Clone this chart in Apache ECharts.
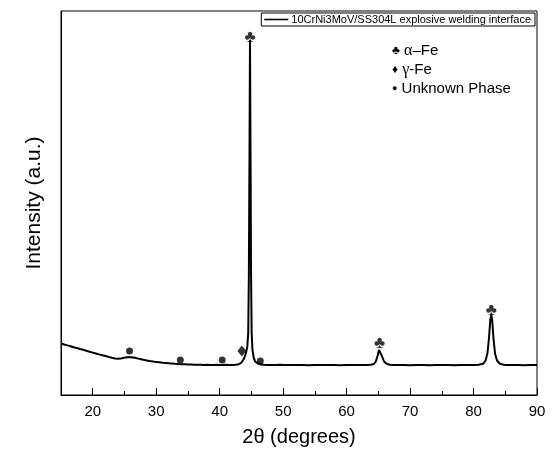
<!DOCTYPE html>
<html>
<head>
<meta charset="utf-8">
<script src="https://cdn.jsdelivr.net/npm/echarts@6/dist/echarts.min.js"></script>
<style>
  html, body { margin: 0; padding: 0; background: #fff; }
  #chart { width: 553px; height: 455px; }
</style>
</head>
<body>
<div id="chart"></div>
<script>
// XRD pattern of the explosive-welding interface
const seriesName = '10CrNi3MoV/SS304L explosive welding interface';

const twoTheta = [
  15.0, 15.5, 16.0, 16.5, 17.0, 17.5, 18.0, 18.5, 19.0, 19.5,
  20.0, 20.5, 21.0, 21.5, 22.0, 22.5, 23.0, 23.5, 24.0, 24.4,
  24.8, 25.2, 25.6, 26.0, 26.4, 26.8, 27.2, 27.6, 28.0, 28.5,
  29.0, 29.5, 30.0, 30.5, 31.0, 31.5, 32.0, 32.5, 33.0, 33.5,
  34.0, 34.5, 35.0, 35.5, 36.0, 36.5, 37.0, 37.5, 38.0, 38.5,
  39.0, 39.5, 40.0, 40.5, 41.0, 41.5, 42.0, 42.5, 43.0, 43.4,
  43.8, 44.1, 44.35, 44.5, 44.6, 44.7, 44.78, 44.86, 44.94, 45.04,
  45.17, 45.37, 45.6, 46.0, 46.5, 47.0, 47.5, 48.0, 48.5, 49.0,
  49.5, 50.0, 51.0, 52.0, 53.0, 54.0, 55.0, 56.0, 57.0, 58.0,
  59.0, 60.0, 61.0, 62.0, 63.0, 63.8, 64.3, 64.6, 64.9, 65.1,
  65.25, 65.4, 65.6, 65.9, 66.3, 66.8, 67.5, 68.0, 69.0, 70.0,
  71.0, 72.0, 73.0, 74.0, 75.0, 76.0, 77.0, 78.0, 79.0, 80.0,
  80.8, 81.5, 81.9, 82.2, 82.45, 82.65, 82.8, 82.95, 83.15, 83.4,
  83.7, 84.1, 84.6, 85.0, 86.0, 87.0, 88.0, 89.0, 90.0
];

const intensity = [
  515, 505, 496, 487, 478, 470, 460, 452, 442, 433,
  424, 415, 406, 398, 390, 381, 372, 366, 362, 364,
  370, 376, 379, 378, 375, 370, 364, 358, 352, 346,
  340, 335, 331, 327, 323, 320, 317, 315, 312, 310,
  308, 307, 305, 304, 303, 302, 303, 301, 302, 300,
  301, 302, 300, 301, 302, 300, 301, 303, 308, 322,
  360, 410, 480, 620, 1200, 2400, 3550, 2450, 1250, 620,
  450, 370, 335, 315, 305, 302, 300, 301, 299, 300,
  302, 300, 299, 301, 300, 298, 300, 301, 299, 300,
  298, 300, 299, 301, 300, 302, 310, 335, 395, 450,
  470, 440, 385, 335, 312, 303, 300, 299, 301, 298,
  300, 299, 298, 300, 299, 301, 298, 300, 299, 300,
  302, 312, 345, 420, 580, 760, 800, 740, 560, 410,
  345, 315, 304, 301, 300, 299, 298, 300, 299
];

// phase markers placed above the reflections
const alphaFePeaks = [[44.8, 3580], [65.2, 520], [82.8, 850]];
const gammaFePeaks = [[43.5, 440]];
const unknownPeaks = [[25.8, 440], [33.8, 350], [40.4, 350], [46.4, 340]];

const xMin = 15, xMax = 90;
const xMajorTicks = [20, 30, 40, 50, 60, 70, 80, 90];
const xMinorTicks = [25, 35, 45, 55, 65, 75, 85];
const yMin = 0, yMax = 3840;

const lineData = twoTheta.map((t, i) => [t, intensity[i]]);

const chart = echarts.init(document.getElementById('chart'), null, { renderer: 'canvas' });

const font = 'Liberation Sans, Arial, sans-serif';
const serif = 'Liberation Serif, Times New Roman, serif';

chart.setOption({
  animation: false,
  backgroundColor: '#fff',
  grid: {
    left: 61, right: 16, top: 11, bottom: 60,
    show: true, borderColor: '#000', borderWidth: 1, backgroundColor: 'transparent'
  },
  legend: {
    data: [{ name: seriesName, icon: 'rect' }],
    right: 18, top: 13,
    orient: 'horizontal',
    borderColor: '#000', borderWidth: 1,
    padding: [1, 4, 1, 3],
    itemWidth: 24, itemHeight: 1.6,
    itemGap: 4,
    itemStyle: { color: '#000' },
    textStyle: { fontFamily: font, fontSize: 11, color: '#000', padding: [0, 0, 0, -2] }
  },
  xAxis: [
    {
      type: 'value', min: xMin, max: xMax,
      name: '2\u03B8 (degrees)', nameLocation: 'middle', nameGap: 32,
      nameTextStyle: { fontFamily: font, fontSize: 20, color: '#000' },
      axisLine: { show: true, onZero: false, lineStyle: { color: '#000', width: 1 } },
      axisTick: { show: true, inside: true, length: 7, customValues: xMajorTicks, lineStyle: { color: '#000', width: 1 } },
      axisLabel: { show: true, customValues: xMajorTicks, fontFamily: font, fontSize: 15, color: '#000', margin: 9 },
      splitLine: { show: false }
    },
    {
      type: 'value', min: xMin, max: xMax, position: 'bottom',
      axisLine: { show: false },
      axisTick: { show: true, inside: true, length: 4, customValues: xMinorTicks, lineStyle: { color: '#000', width: 1 } },
      axisLabel: { show: false },
      splitLine: { show: false }
    }
  ],
  yAxis: {
    type: 'value', min: yMin, max: yMax,
    name: 'Intensity (a.u.)', nameLocation: 'middle', nameGap: 16,
    nameTextStyle: { fontFamily: font, fontSize: 21, color: '#000' },
    axisLine: { show: true, lineStyle: { color: '#000', width: 1 } },
    axisTick: { show: false },
    axisLabel: { show: false },
    splitLine: { show: false }
  },
  series: [
    {
      name: seriesName,
      type: 'line',
      data: lineData,
      showSymbol: false,
      symbol: 'none',
      lineStyle: { color: '#000', width: 2 },
      itemStyle: { color: '#000' },
      z: 3
    },
    {
      name: 'alpha',
      type: 'scatter',
      data: alphaFePeaks,
      symbolSize: 0,
      label: {
        show: true, position: 'inside', formatter: '\u2663',
        fontFamily: font, fontSize: 17, color: '#000'
      },
      z: 4
    },
    {
      name: 'gamma',
      type: 'scatter',
      data: gammaFePeaks,
      symbol: 'diamond',
      symbolSize: [9, 11],
      itemStyle: { color: '#000' },
      z: 4
    },
    {
      name: 'unknown',
      type: 'scatter',
      data: unknownPeaks,
      symbol: 'circle',
      symbolSize: 7,
      itemStyle: { color: '#000' },
      z: 4
    }
  ],
  graphic: [
    {
      type: 'text', left: 392, top: 43,
      style: {
        text: '{s|\u2663} {g|\u03B1}\u2013Fe',
        font: '15px ' + font, fill: '#000',
        rich: {
          s: { fontFamily: font, fontSize: 12, fill: '#000' },
          g: { fontFamily: serif, fontSize: 16, fill: '#000' }
        }
      }
    },
    {
      type: 'text', left: 392, top: 62,
      style: {
        text: '{s|\u2666} {g|\u03B3}-Fe',
        font: '15px ' + font, fill: '#000',
        rich: {
          s: { fontFamily: font, fontSize: 12, fill: '#000' },
          g: { fontFamily: serif, fontSize: 16, fill: '#000' }
        }
      }
    },
    {
      type: 'text', left: 392, top: 81,
      style: {
        text: '{s|\u25CF} Unknown Phase',
        font: '15px ' + font, fill: '#000',
        rich: {
          s: { fontFamily: font, fontSize: 9, fill: '#000' }
        }
      }
    }
  ]
});
</script>
</body>
</html>
